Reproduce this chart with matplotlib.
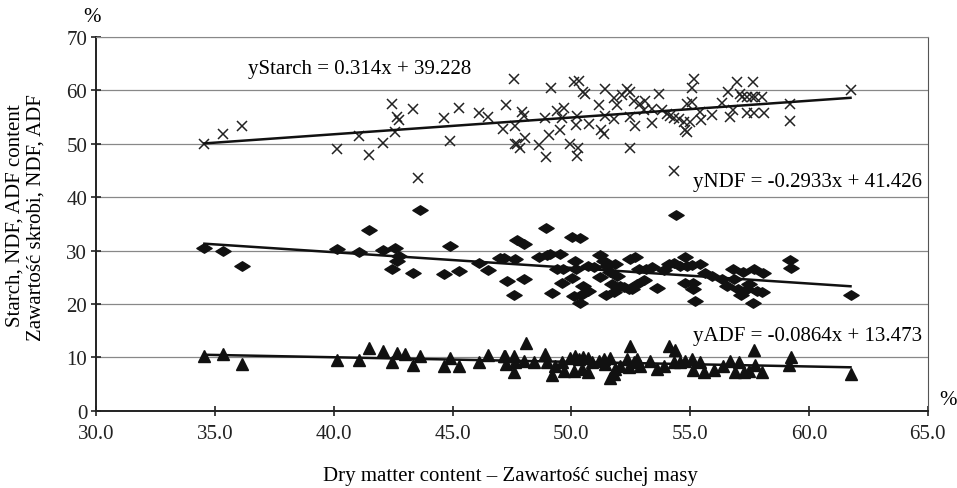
import matplotlib.pyplot as plt
import numpy as np
from matplotlib.path import Path

# Starch
starch_x = [34.55, 35.35, 36.15, 40.13, 41.08, 41.5, 42.05, 42.44, 42.58, 42.65, 42.76, 43.33, 43.56,
            44.62, 44.87, 45.25, 46.13, 46.49, 47.26, 47.14, 47.57, 47.64, 47.64, 47.71, 47.82, 48.06,
            47.92, 48.02, 48.62, 48.94, 49.14, 49.04, 48.9, 49.4, 49.5, 49.67, 49.6, 49.95, 50.09, 50.3,
            50.24, 50.21, 50.26, 50.24, 50.51, 50.59, 50.73, 51.15, 51.25, 51.36, 51.43, 51.43, 51.78,
            51.92, 51.81, 52.13, 52.34, 52.45, 52.48, 52.62, 52.69, 52.48, 52.9, 53.11, 53.04, 53.39,
            53.39, 53.67, 53.82, 54.03, 54.17, 54.3, 54.52, 54.73, 54.8, 55.01, 54.87, 55.15, 55.08,
            55.08, 54.87, 54.3, 55.4, 55.47, 55.93, 56.35, 56.59, 56.97, 56.8, 56.69, 57.11, 57.19,
            57.4, 57.65, 57.61, 57.75, 58.03, 57.4, 57.68, 58.1, 59.22, 59.19, 61.75]
starch_y = [50.0, 51.9, 53.3, 49.1, 51.4, 47.9, 50.1, 57.5, 52.3, 55.0, 54.4, 56.6, 43.6,
            54.8, 50.5, 56.8, 55.8, 55.0, 57.3, 52.8, 62.2, 53.4, 50.0, 50.0, 49.2, 51.1,
            56.0, 55.2, 49.7, 47.5, 60.4, 51.6, 54.8, 56.1, 52.5, 56.7, 54.8, 50.0, 61.6, 61.7,
            55.3, 53.6, 49.2, 47.8, 59.7, 59.3, 53.8, 57.3, 52.5, 51.9, 60.3, 55.3, 58.5,
            57.3, 54.7, 59.2, 60.2, 59.7, 55.0, 58.1, 53.4, 49.3, 57.5, 58.1, 56.3, 56.6,
            53.9, 59.3, 56.3, 55.6, 55.3, 54.8, 54.7, 54.1, 52.5, 54.1, 57.5, 62.2, 60.4,
            57.8, 52.3, 45.0, 56.0, 54.4, 55.4, 57.7, 59.7, 61.6, 56.3, 55.0, 59.4, 58.8,
            58.8, 61.6, 58.8, 58.8, 58.8, 55.8, 55.8, 55.8, 57.5, 54.2, 60.0]

# NDF
ndf_x = [34.55, 35.35, 36.15, 40.13, 41.08, 41.5, 42.05, 42.44, 42.58, 42.65, 42.76, 43.33, 43.61,
         44.62, 44.87, 45.28, 46.13, 46.49, 47.15, 47.29, 47.6, 47.61, 47.7, 47.99, 48.94, 50.03,
         50.35, 54.42, 47.0, 48.02, 48.62, 48.97, 49.11, 49.53, 49.18, 49.6, 49.39, 49.64, 50.03,
         50.17, 50.21, 50.12, 50.35, 50.51, 50.68, 50.72, 50.94, 51.19, 51.22, 51.36, 51.5, 51.64,
         51.85, 51.92, 51.71, 51.47, 51.78, 52.06, 52.2, 52.42, 52.56, 52.77, 53.04, 52.45, 52.69,
         52.84, 53.16, 53.39, 53.6, 53.88, 54.09, 54.3, 54.58, 54.79, 54.87, 55.07, 55.43, 54.79,
         55.14, 55.14, 55.22, 55.64, 55.93, 56.35, 56.56, 56.81, 56.84, 57.0, 57.12, 57.23, 57.4,
         57.47, 57.68, 57.82, 57.65, 58.07, 58.03, 59.19, 59.25, 61.75, 50.4]
ndf_y = [30.4, 30.0, 27.2, 30.3, 29.7, 33.8, 30.1, 26.6, 30.4, 28.1, 28.9, 25.8, 37.6,
         25.6, 30.8, 26.1, 27.7, 26.4, 28.6, 24.3, 21.7, 28.4, 32.0, 31.3, 34.3, 32.5,
         32.3, 36.7, 28.6, 24.6, 28.8, 29.2, 29.4, 29.4, 22.1, 23.9, 26.6, 26.6, 24.8,
         28.1, 26.6, 21.5, 20.2, 23.4, 22.5, 27.2, 26.9, 25.0, 29.1, 28.1, 27.2, 26.0,
         27.5, 25.2, 23.8, 21.7, 22.2, 23.4, 23.1, 22.8, 22.8, 23.8, 24.4, 28.4, 28.8,
         26.6, 26.6, 26.9, 22.9, 26.3, 27.5, 27.7, 27.2, 28.8, 27.2, 27.3, 27.5, 23.9,
         22.8, 23.9, 20.5, 25.8, 25.2, 24.6, 23.4, 26.6, 24.7, 22.8, 21.7, 26.0, 22.8,
         23.8, 26.6, 22.5, 20.2, 25.8, 22.3, 28.3, 26.7, 21.7, 21.7]

# ADF
adf_x = [34.55, 35.35, 36.15, 40.13, 41.08, 41.5, 42.05, 42.44, 42.65, 43.0, 43.33, 43.61, 44.62,
         44.87, 45.28, 46.13, 46.49, 47.15, 47.26, 47.6, 47.57, 47.64, 47.22, 48.02, 48.1, 48.41,
         48.9, 48.97, 49.18, 49.32, 49.6, 49.67, 49.95, 50.12, 50.17, 50.31, 50.45, 50.51, 50.72,
         50.72, 50.87, 51.15, 51.36, 51.43, 51.64, 51.78, 51.85, 52.06, 52.34, 52.48, 52.41, 52.62,
         52.77, 52.9, 53.32, 53.6, 53.88, 54.09, 54.38, 54.3, 54.58, 54.79, 55.07, 55.12, 55.43,
         55.57, 56.0, 56.4, 56.69, 56.9, 57.04, 57.25, 57.46, 57.68, 57.75, 58.03, 59.15, 59.26,
         61.75, 51.64]
adf_y = [10.3, 10.6, 8.8, 9.5, 9.5, 11.8, 11.1, 9.2, 10.9, 10.6, 8.6, 10.2, 8.3,
         9.8, 8.3, 9.1, 10.4, 10.3, 8.8, 10.3, 7.3, 9.1, 10.3, 9.4, 12.7, 9.1,
         10.6, 9.1, 6.7, 8.4, 9.1, 7.5, 9.8, 7.5, 10.2, 9.7, 7.8, 10.0, 9.8,
         7.3, 9.1, 9.4, 9.7, 8.8, 6.1, 6.9, 7.8, 8.4, 9.7, 12.2, 8.1, 9.1,
         9.7, 8.4, 9.4, 7.8, 8.4, 12.2, 11.4, 9.2, 9.2, 9.4, 9.7, 7.7, 9.1,
         7.3, 7.7, 8.4, 9.4, 7.2, 9.2, 7.2, 7.5, 11.3, 8.6, 7.3, 8.6, 10.1,
         6.9, 9.8]

# trend lines (slope, intercept)
fit_starch = (0.314, 39.228)
fit_ndf = (-0.2933, 41.426)
fit_adf = (-0.0864, 13.473)


def main():
    plt.rcParams['font.family'] = ['Liberation Serif', 'DejaVu Serif']
    fs = 15
    fig = plt.figure(figsize=(9.57, 4.89), dpi=100)
    ax = fig.add_axes([0.1006, 0.158, 0.8688, 0.7642])

    # flattened diamond for NDF
    diamond = Path([(-1, 0), (0, 0.62), (1, 0), (0, -0.62), (-1, 0)],
                   [Path.MOVETO, Path.LINETO, Path.LINETO, Path.LINETO, Path.CLOSEPOLY])

    ax.plot(starch_x, starch_y, 'x', color='#222222', ms=7, mew=1.1, zorder=3)
    ax.plot(ndf_x, ndf_y, linestyle='none', marker=diamond, color='#111111', ms=11, zorder=3)
    ax.plot(adf_x, adf_y, '^', color='#111111', ms=9, zorder=3)

    for xs, (a, b) in [(starch_x, fit_starch), (ndf_x, fit_ndf), (adf_x, fit_adf)]:
        xx = np.array([min(xs), max(xs)])
        ax.plot(xx, a * xx + b, color='#111111', lw=1.8, zorder=4)

    ax.set_xlim(30, 65)
    ax.set_ylim(0, 70)
    ax.set_xticks(np.arange(30, 66, 5))
    ax.set_xticklabels(['%.1f' % v for v in np.arange(30, 66, 5)])
    ax.set_yticks(np.arange(0, 71, 10))
    ax.yaxis.grid(True, color='#888888', lw=0.9)
    ax.set_axisbelow(True)
    ax.tick_params(direction='inout', length=7, width=1.2, labelsize=fs, colors='#222222')
    ax.tick_params(axis='y', pad=3)
    ax.tick_params(axis='x', pad=6)
    ax.spines['left'].set_linewidth(1.4)
    ax.spines['bottom'].set_linewidth(1.4)
    ax.spines['left'].set_color('#222222')
    ax.spines['bottom'].set_color('#222222')
    ax.spines['top'].set_color('#888888')
    ax.spines['right'].set_color('#555555')

    ax.text(36.4, 64.1, 'yStarch = 0.314x + 39.228', fontsize=fs, va='center')
    ax.text(64.78, 42.9, 'yNDF = -0.2933x + 41.426', fontsize=fs, va='center', ha='right')
    ax.text(64.78, 14.0, 'yADF = -0.0864x + 13.473', fontsize=fs, va='center', ha='right')

    fig.text(92 / 957, 1 - 18 / 489, '%', fontsize=fs, ha='center', va='center')
    fig.text(948 / 957, 1 - 401 / 489, '%', fontsize=fs, ha='center', va='center')
    fig.text(15 / 957, 1 - 216 / 489, 'Starch, NDF, ADF content', fontsize=fs,
             rotation=90, ha='center', va='center')
    fig.text(36 / 957, 1 - 218 / 489, 'Zawartość skrobi, NDF, ADF', fontsize=fs,
             rotation=90, ha='center', va='center')
    fig.text(510 / 957, 1 - 477 / 489, 'Dry matter content – Zawartość suchej masy',
             fontsize=fs, ha='center', va='center')

    plt.savefig('out.png', dpi=100)


if __name__ == "__main__":
    main()
